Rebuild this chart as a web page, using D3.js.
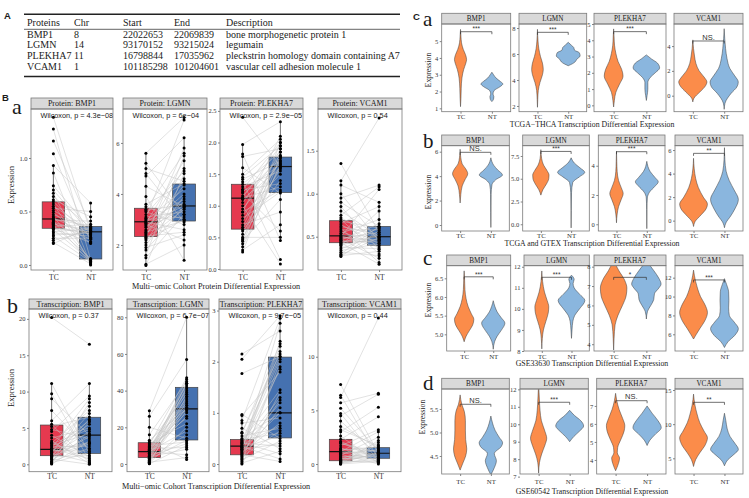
<!DOCTYPE html>
<html><head><meta charset="utf-8">
<script src="https://cdn.jsdelivr.net/npm/d3@7"></script>
<style>body{margin:0;background:#fff}svg{display:block}</style>
</head><body>
<svg id="fig" width="749" height="498"></svg>
<script>
// ================= DATA =================
const genes = ["BMP1","LGMN","PLEKHA7","VCAM1"];
const groups = ["TC","NT"];

// Panel A table
const tableHeader = ["Proteins","Chr","Start","End","Description"];
const tableProteins = ["BMP1","LGMN","PLEKHA7","VCAM1"];
const tableChr = ["8","14","11","1"];
const tableStart = ["22022653","93170152","16798844","101185298"];
const tableEnd = ["22069839","93215024","17035962","101204601"];
const tableDesc = ["bone morphogenetic protein 1","legumain","pleckstrin homology domain containing A7","vascular cell adhesion molecule 1"];

// Panel B a: protein (paired samples, TC[i] <-> NT[i])
const protBMP1TC = [1.38,1.27,1.16,1.04,0.93,0.86,0.74,0.70,0.67,0.64,0.61,0.59,0.57,0.55,0.53,0.51,0.49,0.47,0.45,0.44,0.43,0.42,0.41,0.40,0.39,0.38,0.37,0.36,0.35,0.34,0.34,0.33,0.31,0.30,0.28,0.27,0.25,0.23,0.21,0.20];
const protBMP1NT = [0.31,0.05,0.36,0.22,0.58,0.01,0.33,0.29,0.0,0.35,0.45,0.26,0.03,0.32,0.50,0.31,0.20,0.34,0.05,0.28,0.36,0.41,0.02,0.30,0.24,0.33,0.06,0.38,0.29,0.21,0.31,0.04,0.34,0.27,0.30,0.03,0.25,0.32,0.01,0.35];
const protLGMNTC = [5.6,5.2,5.0,4.8,4.7,4.3,3.9,3.6,3.5,3.4,3.35,3.3,3.2,3.1,3.05,3.0,2.95,2.9,2.9,2.85,2.8,2.75,2.7,2.6,2.55,2.5,2.45,2.4,2.35,2.3,2.25,2.2,2.1,2.0,1.9,1.8,1.6,1.5,1.25,1.2];
const protLGMNNT = [7.0,3.2,4.5,2.9,6.2,3.5,1.4,4.4,3.0,5.6,3.6,2.8,4.9,3.3,6.9,3.1,4.2,2.6,3.8,5.3,2.2,3.55,4.0,3.45,5.0,2.95,3.7,4.35,2.5,5.8,3.4,3.0,4.6,3.9,2.4,3.5,5.5,3.2,2.0,4.8];
const protPLEKHA7TC = [2.4,1.97,1.82,1.78,1.6,1.5,1.42,1.38,1.34,1.3,1.26,1.22,1.2,1.16,1.13,1.12,1.1,1.05,1.0,0.95,0.9,0.85,0.8,0.75,0.7,0.66,0.63,0.6,0.55,0.5,0.48,0.46,0.44,0.4,0.35,0.3,0.27,1.25,1.45,0.9];
const protPLEKHA7NT = [1.62,2.33,0.45,1.9,1.2,2.05,1.7,0.15,1.85,1.55,2.0,1.65,0.6,1.75,1.95,1.3,1.6,1.8,0.08,1.68,2.1,1.5,1.22,1.72,0.9,1.9,1.58,1.4,1.77,0.5,1.62,2.0,1.1,1.85,1.66,0.7,1.78,1.35,1.95,1.25];
const protVCAM1TC = [1.35,1.15,1.1,1.0,0.95,0.9,0.85,0.8,0.75,0.72,0.7,0.68,0.66,0.64,0.62,0.6,0.58,0.56,0.54,0.52,0.51,0.5,0.49,0.48,0.47,0.46,0.45,0.44,0.43,0.42,0.41,0.4,0.38,0.36,0.34,0.32,0.3,0.29,0.28,0.27];
const protVCAM1NT = [0.55,1.88,0.9,0.45,1.1,0.62,0.35,0.5,1.08,0.48,0.3,0.6,0.85,0.42,0.52,0.2,0.58,0.4,0.7,0.5,0.38,1.05,0.46,0.55,0.25,0.65,0.44,0.5,0.18,0.6,0.47,0.8,0.36,0.53,0.42,0.28,0.62,0.49,0.33,0.57];
// box stats [lower whisker, q1, median, q3, upper whisker] for TC, NT
const protBoxTC = [[0.20,0.343,0.43,0.59,0.93],[1.22,2.33,2.91,3.44,5.6],[0.27,0.63,1.12,1.34,1.97],[0.27,0.43,0.51,0.686,1.15]];
const protBoxNT = [[0.0,0.056,0.31,0.36,0.58],[1.45,2.94,3.53,4.39,6.2],[0.43,1.21,1.62,1.77,2.33],[0.17,0.40,0.50,0.62,0.90]];
const protP = ["4.3e\u221208","6e\u221204","2.9e\u221205","0.54"];

// Panel B b: transcription
const transBMP1TC = [20.2,11.1,9.7,9.0,7.4,6.0,5.5,5.2,4.8,4.5,4.0,3.6,3.2,2.9,2.6,2.4,2.2,2.1,2.05,2.0,1.9,1.8,1.6,1.5,1.3,1.2,1.1,1.0,0.9,0.8,0.7,0.5,0.4,0.3,0.2,0.1,0.05,3.0,2.8,1.7];
const transBMP1NT = [16.5,1.5,0.5,4.0,2.0,11.1,0.2,6.5,3.5,9.4,1.0,5.0,0.1,7.4,4.2,2.5,9.0,0.8,6.0,3.0,1.8,5.5,8.0,0.3,4.5,2.8,7.0,1.2,3.8,6.2,0.0,4.1,2.2,5.8,1.6,8.5,3.2,0.6,4.8,2.9];
const transLGMNTC = [29,26,20,16,13,12,11.6,11,10.5,10,9.5,9,8.5,8,7.5,7,6.8,6.7,6.5,6,5.5,5,4.6,4.2,4,3.8,3.5,3.2,3,2.5,2,1.5,1,0.8,0.5,0.3,0.1,7.2,5.8,9.2];
const transLGMNNT = [80,57,14,45,30,2.5,38,22,47,12,33,40,9,28,43,18,36,5,41,30,26,46,11,35,8,44,31,16,39,13,29,42,3.5,34,20,37,10,44,32,25];
const transPLEKHA7TC = [2.15,2.05,1.77,0.97,0.95,0.85,0.8,0.7,0.6,0.5,0.48,0.46,0.44,0.42,0.4,0.38,0.36,0.35,0.34,0.33,0.32,0.3,0.28,0.26,0.24,0.22,0.2,0.18,0.16,0.14,0.12,0.1,0.08,0.05,0.02,0.0,0.55,0.62,0.41,0.29];
const transPLEKHA7NT = [2.6,2.9,2.1,0.5,1.8,2.85,0.9,0.3,2.35,1.0,0.6,2.1,1.45,0.2,2.2,0.75,1.3,2.05,0.1,1.85,0.55,2.3,0.4,1.0,2.75,0.8,1.25,0.05,2.4,0.65,1.1,1.9,0.45,2.0,0.25,1.4,0.7,2.15,0.35,1.2];
const transVCAM1TC = [7.4,6.4,6.2,5.7,5.2,4.7,4.5,4.0,3.5,3.0,2.6,2.3,2.1,1.9,1.7,1.5,1.3,1.2,1.15,1.1,1.0,0.9,0.8,0.7,0.6,0.5,0.4,0.35,0.3,0.25,0.2,0.15,0.1,0.05,0.0,0.0,1.4,0.45,2.0,3.2];
const transVCAM1NT = [1.0,0.5,13.6,6.6,1.2,0.3,6.5,0.8,1.5,5.3,0.1,4.4,0.6,1.1,3.2,0.2,1.6,0.9,3.0,0.4,1.3,0.0,2.5,0.7,1.0,0.55,2.0,1.4,0.15,0.95,1.8,0.35,1.05,0.6,2.2,0.25,1.2,0.8,0.45,1.7];
const transBoxTC = [[0,1.18,2.06,5.4,11.1],[0,3.5,6.7,11.6,28.9],[0,0.18,0.35,0.48,0.96],[0,0.3,1.15,2.3,4.7]];
const transBoxNT = [[0,1.5,4.0,6.47,11.1],[2.5,13.1,30,41.8,80],[0.05,0.51,1.0,2.09,2.9],[0,0.53,1.0,1.52,3.0]];
const transP = ["0.37","6.7e\u221207","9.7e\u221205","0.44"];

// Panel C violins: density profiles [value, relative width] per gene
const thcaTC = [
  [[1.1,0],[1.6,0.03],[2.2,0.05],[2.8,0.1],[3.3,0.22],[3.7,0.38],[3.9,0.43],[4.2,0.35],[4.5,0.2],[4.9,0.07],[5.3,0.03],[5.7,0]],
  [[1.9,0],[2.5,0.02],[3.2,0.06],[3.8,0.18],[4.4,0.36],[4.8,0.42],[5.3,0.36],[5.8,0.22],[6.4,0.1],[7.0,0.04],[7.9,0]],
  [[-0.1,0],[0.3,0.05],[0.8,0.15],[1.3,0.4],[1.8,0.64],[2.2,0.55],[2.7,0.3],[3.2,0.15],[3.7,0.06],[4.2,0.03],[4.7,0]],
  [[-0.5,0],[-0.2,0.08],[0.3,0.5],[0.8,0.9],[1.1,1.0],[1.5,0.8],[2.0,0.45],[2.6,0.22],[3.2,0.12],[3.8,0.05],[4.5,0]]];
const thcaNT = [
  [[1.4,0],[1.55,0.12],[1.7,0.14],[1.85,0.08],[2.05,0.15],[2.3,0.6],[2.45,0.78],[2.6,0.6],[2.8,0.3],[3.0,0.12],[3.15,0]],
  [[5.1,0],[5.25,0.3],[5.4,0.5],[5.6,0.62],[5.85,0.86],[6.1,0.8],[6.3,0.45],[6.5,0.4],[6.7,0.2],[6.9,0]],
  [[0.3,0],[0.6,0.05],[1.0,0.1],[1.4,0.1],[1.7,0.25],[2.0,0.6],[2.3,0.9],[2.6,0.75],[2.85,0.35],[3.1,0]],
  [[-1.1,0],[-0.6,0.06],[0.2,0.5],[0.7,0.9],[1.1,1.0],[1.6,0.75],[2.2,0.4],[3.0,0.2],[3.8,0.1],[4.6,0.04],[5.4,0]]];
const gtexTC = [
  [[1.8,0],[2.5,0.05],[3.2,0.15],[3.7,0.35],[4.2,0.55],[4.6,0.4],[5.0,0.15],[5.5,0.05],[6.2,0]],
  [[3.2,0],[3.8,0.15],[4.4,0.4],[5.0,0.58],[5.4,0.6],[5.9,0.45],[6.5,0.2],[7.2,0.06],[8.2,0]],
  [[0.1,0],[0.7,0.05],[1.2,0.15],[1.7,0.35],[2.1,0.49],[2.5,0.35],[3.0,0.15],[3.6,0.05],[4.3,0.02],[5.0,0]],
  [[-0.5,0],[-0.1,0.1],[0.5,0.55],[1.0,0.9],[1.4,1.0],[2.0,0.7],[2.8,0.35],[3.6,0.15],[4.4,0.05],[5.3,0]]];
const gtexNT = [
  [[-0.2,0],[1.0,0.01],[2.5,0.02],[3.3,0.08],[3.7,0.35],[4.1,0.84],[4.5,0.5],[4.9,0.2],[5.5,0]],
  [[-0.4,0],[1.5,0.01],[3.5,0.03],[4.6,0.12],[5.2,0.6],[5.7,1.0],[6.2,0.65],[6.7,0.25],[7.3,0]],
  [[-0.3,0],[1.0,0.01],[1.8,0.04],[2.2,0.2],[2.6,0.6],[2.9,0.84],[3.2,0.6],[3.6,0.25],[4.3,0]],
  [[-0.6,0],[-0.2,0.1],[0.4,0.45],[1.0,0.75],[1.8,1.0],[2.6,0.7],[3.4,0.35],[4.2,0.12],[5.2,0.03],[6.2,0]]];
const gse33630TC = [
  [[4.8,0],[4.95,0.15],[5.1,0.4],[5.25,0.65],[5.4,0.74],[5.55,0.55],[5.75,0.3],[5.95,0.15],[6.2,0.06],[6.5,0.03],[6.7,0]],
  [[8.1,0],[8.6,0.04],[9.0,0.12],[9.4,0.3],[9.8,0.48],[10.1,0.52],[10.4,0.4],[10.8,0.2],[11.3,0.06],[11.8,0]],
  [[3.7,0],[4.3,0.03],[5.0,0.1],[5.5,0.3],[6.0,0.6],[6.5,0.85],[6.9,0.9],[7.3,0.75],[7.8,0.35],[8.3,0]],
  [[5.5,0],[6.0,0.2],[6.6,0.45],[7.4,0.8],[8.3,1.0],[9.2,0.8],[10.0,0.5],[10.8,0.3],[11.6,0.15],[12.8,0]]];
const gse33630NT = [
  [[4.6,0],[4.8,0.1],[4.95,0.3],[5.1,0.6],[5.3,0.89],[5.45,0.6],[5.6,0.3],[5.75,0.12],[5.9,0]],
  [[8.6,0],[9.0,0.04],[9.4,0.1],[9.7,0.25],[10.0,0.6],[10.4,1.0],[10.7,0.6],[11.0,0.2],[11.2,0.12],[11.4,0.2],[11.6,0]],
  [[5.3,0],[5.7,0.08],[6.0,0.3],[6.3,0.5],[6.6,0.55],[6.9,0.85],[7.1,1.0],[7.4,0.85],[7.8,0.5],[8.3,0]],
  [[4.6,0],[5.2,0.25],[5.9,0.75],[6.6,1.0],[7.3,0.7],[8.0,0.35],[8.8,0.3],[9.6,0.32],[10.5,0.3],[11.3,0.15],[11.9,0]]];
const gse60542TC = [
  [[4.2,0],[4.35,0.2],[4.5,0.4],[4.65,0.48],[4.85,0.4],[5.05,0.38],[5.25,0.38],[5.45,0.3],[5.6,0.12],[5.8,0]],
  [[7.2,0],[7.8,0.06],[8.3,0.22],[8.8,0.45],[9.2,0.58],[9.6,0.45],[10.2,0.2],[10.8,0.1],[11.5,0.05],[12.3,0]],
  [[3.4,0],[3.8,0.2],[4.1,0.28],[4.4,0.12],[4.7,0.15],[5.1,0.35],[5.6,0.6],[5.9,0.65],[6.3,0.5],[6.8,0.25],[7.3,0.08],[7.7,0]],
  [[3.8,0],[4.8,0.15],[5.8,0.45],[7.0,0.85],[8.0,1.0],[9.0,0.75],[10.2,0.45],[11.5,0.25],[12.8,0.1],[14.4,0]]];
const gse60542NT = [
  [[4.1,0],[4.25,0.25],[4.4,0.4],[4.55,0.25],[4.7,0.75],[4.78,0.85],[4.9,0.6],[5.05,0.3],[5.2,0.12],[5.35,0]],
  [[9.0,0],[9.3,0.3],[9.6,0.7],[9.9,1.0],[10.2,0.8],[10.5,0.35],[10.8,0]],
  [[4.8,0],[5.1,0.2],[5.4,0.55],[5.8,1.0],[6.2,0.75],[6.6,0.35],[7.0,0]],
  [[3.9,0],[4.8,0.25],[5.6,0.7],[6.3,1.0],[7.2,0.75],[8.2,0.4],[9.3,0.2],[10.5,0.1],[11.6,0]]];
// significance brackets [label, height]
const thcaSig = [["***",5.56],["***",7.67],["***",4.53],["NS.",4.41]];
const gtexSig = [["NS.",5.95],["***",8.0],["***",4.96],["**",5.72]];
const gse33630Sig = [["***",6.54],["***",11.5],["*",7.45],["***",11.76]];
const gse60542Sig = [["NS.",5.6],["***",11.26],["NS.",7.29],["**",13.2]];

// ================= LAYOUT =================
const SERIF = "'Liberation Serif','Times New Roman',serif";
const SANS = "'Liberation Sans',Arial,sans-serif";
const svg = d3.select("#fig");
svg.append("rect").attr("width",749).attr("height",498).attr("fill","#fff");
const defs = svg.append("defs");
let clipId = 0;

function text(x,y,s,o={},parent=svg){
  const t = parent.append("text").attr("x",x).attr("y",y).text(s)
    .attr("font-family",o.family||SERIF).attr("font-size",o.size||8)
    .attr("fill",o.fill||"#1a1a1a").attr("text-anchor",o.anchor||"start");
  if(o.weight) t.attr("font-weight",o.weight);
  if(o.rotate) t.attr("transform",`rotate(-90,${x},${y})`);
  return t;
}

// ---------- Panel A ----------
text(4,18.5,"A",{family:SANS,size:9.5,weight:"bold"});
text(413,19.5,"C",{family:SANS,size:9.5,weight:"bold"});
text(2,100.5,"B",{family:SANS,size:9.5,weight:"bold"});
const colX = [27,74,123,174,226];
const tL=24,tR=400;
svg.append("line").attr("x1",tL).attr("x2",tR).attr("y1",14.3).attr("y2",14.3).attr("stroke","#222").attr("stroke-width",1.4);
svg.append("line").attr("x1",tL).attr("x2",tR).attr("y1",29.3).attr("y2",29.3).attr("stroke","#222").attr("stroke-width",0.7);
svg.append("line").attr("x1",tL).attr("x2",tR).attr("y1",76.5).attr("y2",76.5).attr("stroke","#222").attr("stroke-width",1.4);
tableHeader.forEach((h,i)=>text(colX[i],25.5,h,{size:10}));
const rowY = d3.scaleLinear().domain([0,3]).range([37.6,70]);
tableProteins.forEach((p,r)=>{
  [p,tableChr[r],tableStart[r],tableEnd[r],tableDesc[r]].forEach((v,i)=>text(colX[i],rowY(r),v,{size:10}));
});

// ---------- shared helpers ----------
function frame(x0,x1,sTop,sBot,pBot,label,fs){
  svg.append("rect").attr("x",x0).attr("y",sTop).attr("width",x1-x0).attr("height",sBot-sTop)
    .attr("fill","#d9d9d9").attr("stroke","#7a7a7a").attr("stroke-width",0.8);
  svg.append("rect").attr("x",x0).attr("y",sBot).attr("width",x1-x0).attr("height",pBot-sBot)
    .attr("fill","none").attr("stroke","#7a7a7a").attr("stroke-width",0.8);
  text((x0+x1)/2,(sTop+sBot)/2+fs*0.35,label,{size:fs,anchor:"middle"});
}
function clipGroup(x0,x1,top,bot){
  const id = "clip"+(clipId++);
  defs.append("clipPath").attr("id",id).append("rect").attr("x",x0).attr("y",top).attr("width",x1-x0).attr("height",bot-top);
  return svg.append("g").attr("clip-path",`url(#${id})`);
}
function axes(x0,pBot,x,y,ticks,fmt,tfs,xfs,xpad){
  const gy = svg.append("g").attr("transform",`translate(${x0},0)`)
    .call(d3.axisLeft(y).tickValues(ticks).tickSize(2).tickPadding(1.5).tickFormat(d3.format(fmt)));
  gy.select(".domain").remove();
  gy.selectAll("line").attr("stroke","#333").attr("stroke-width",0.6);
  gy.selectAll("text").attr("font-family",SERIF).attr("font-size",tfs).attr("fill","#333");
  const gx = svg.append("g").attr("transform",`translate(0,${pBot})`)
    .call(d3.axisBottom(x).tickSize(2).tickPadding(xpad));
  gx.select(".domain").remove();
  gx.selectAll("line").attr("stroke","#333").attr("stroke-width",0.6);
  gx.selectAll("text").attr("font-family",SERIF).attr("font-size",xfs).attr("fill","#333");
}

// ---------- Panel B ----------
const boxFill = {TC:"#e5394f", NT:"#4571b0"};
function bRow(cfg, tcs, nts, boxTC, boxNT, pv, prefix){
  text(cfg.tagX,cfg.tagY,cfg.tag,{size:22});
  text(13.5,cfg.ylabY,"Expression",{size:8.5,anchor:"middle",rotate:true});
  text(216,cfg.titleY,cfg.title,{size:8.2,anchor:"middle"});
  genes.forEach((g,i)=>{
    const [x0,x1]=cfg.xs[i];
    const x = d3.scalePoint().domain(groups).range([x0,x1]).padding(0.6);
    const y = d3.scaleLinear().domain(cfg.domains[i]).range([cfg.pBot,cfg.sBot]);
    axes(x0,cfg.pBot,x,y,cfg.ticks[i],cfg.fmts[i],6.5,7.5,cfg.xpad);
    const G = clipGroup(x0,x1,cfg.sBot,cfg.pBot);
    const bw = x.step()*0.6;
    [[ "TC", boxTC[i]],["NT", boxNT[i]]].forEach(([grp,s])=>{
      const cx = x(grp);
      G.append("line").attr("x1",cx).attr("x2",cx).attr("y1",y(s[0])).attr("y2",y(s[1])).attr("stroke","#333").attr("stroke-width",0.7);
      G.append("line").attr("x1",cx).attr("x2",cx).attr("y1",y(s[3])).attr("y2",y(s[4])).attr("stroke","#333").attr("stroke-width",0.7);
      G.append("rect").attr("x",cx-bw/2).attr("y",y(s[3])).attr("width",bw).attr("height",y(s[1])-y(s[3]))
        .attr("fill",boxFill[grp]).attr("stroke","#444").attr("stroke-width",0.7);
      G.append("line").attr("x1",cx-bw/2).attr("x2",cx+bw/2).attr("y1",y(s[2])).attr("y2",y(s[2])).attr("stroke","#111").attr("stroke-width",1.2);
    });
    const tc=tcs[i], nt=nts[i];
    tc.forEach((v,k)=>{
      G.append("line").attr("x1",x("TC")).attr("x2",x("NT")).attr("y1",y(v)).attr("y2",y(nt[k]))
        .attr("stroke","#c4c4c4").attr("stroke-width",0.5);
    });
    [["TC",tc],["NT",nt]].forEach(([grp,arr])=>{
      G.append("g").selectAll("circle").data(arr).join("circle")
        .attr("cx",x(grp)).attr("cy",d=>y(d)).attr("r",1.5).attr("fill","#000");
    });
    text(x0+9.5,cfg.sBot+8.5,"Wilcoxon, p = "+pv[i],{family:SANS,size:7.3},G);
    frame(x0,x1,cfg.sTop,cfg.sBot,cfg.pBot,prefix+g,8);
  });
}
bRow({tag:"a",tagX:12,tagY:114,ylabY:185,xpad:2.5,title:"Multi\u2212omic Cohort Protein Differential Expression",titleY:289,
  sTop:98,sBot:109,pBot:270,xs:[[31,113],[123,207],[220,303],[318,402]],
  domains:[[-0.047,1.458],[1.02,7.33],[-0.016,2.53],[0.113,1.985]],
  ticks:[[0,0.5,1],[2,4,6],[0,0.5,1,1.5,2,2.5],[0.5,1,1.5]],fmts:[".1f","d",".1f",".1f"]},
  [protBMP1TC,protLGMNTC,protPLEKHA7TC,protVCAM1TC],[protBMP1NT,protLGMNNT,protPLEKHA7NT,protVCAM1NT],
  protBoxTC,protBoxNT,protP,"Protein: ");
bRow({tag:"b",tagX:7,tagY:313,ylabY:388,xpad:0.3,title:"Multi\u2212omic Cohort Transcription Differential Expression",titleY:488.5,
  sTop:299,sBot:309,pBot:471.7,xs:[[29,112],[127,209],[219,303],[318,401]],
  domains:[[-1.02,21.36],[-4.2,84.5],[-0.15,3.03],[-0.72,14.45]],
  ticks:[[0,5,10,15,20],[0,20,40,60,80],[0,1,2,3],[0,5,10]],fmts:["d","d","d","d"]},
  [transBMP1TC,transLGMNTC,transPLEKHA7TC,transVCAM1TC],[transBMP1NT,transLGMNNT,transPLEKHA7NT,transVCAM1NT],
  transBoxTC,transBoxNT,transP,"Transcription: ");

// ---------- Panel C ----------
const vFill = {TC:"#fb8c4a", NT:"#8ab6de"};
function cRow(cfg, tcP, ntP, sig){
  text(423,cfg.tagY,cfg.tag,{size:21});
  text(cfg.ylabX,cfg.ylabY,"Expression",{size:7.8,anchor:"middle",rotate:true});
  text(592,cfg.titleY,cfg.title,{size:7.8,anchor:"middle"});
  genes.forEach((g,i)=>{
    const [x0,x1]=cfg.xs[i];
    const x = d3.scalePoint().domain(groups).range([x0,x1]).padding(0.6);
    const y = d3.scaleLinear().domain(cfg.domains[i]).range([cfg.pBot,cfg.sBot]);
    axes(x0,cfg.pBot,x,y,cfg.ticks[i],cfg.fmts[i],6.5,6.8,cfg.xpad);
    const G = clipGroup(x0,x1,cfg.sBot,cfg.pBot);
    const half = x.step()*0.45;
    [["TC",tcP[i]],["NT",ntP[i]]].forEach(([grp,prof])=>{
      const cx = x(grp);
      const area = d3.area().curve(d3.curveMonotoneY)
        .y(d=>y(d[0])).x0(d=>cx-d[1]*half).x1(d=>cx+d[1]*half);
      G.append("path").attr("d",area(prof)).attr("fill",vFill[grp]).attr("stroke","#3a3a3a").attr("stroke-width",0.5);
    });
    const [lab,h]=sig[i];
    const by=y(h), xa=x("TC"), xb=x("NT");
    G.append("path").attr("d",`M${xa},${by+2.5}V${by}H${xb}V${by+2.5}`).attr("fill","none").attr("stroke","#333").attr("stroke-width",0.7);
    text((xa+xb)/2,by-(lab==="NS."?1.3:0.3),lab,{family:SANS,size:lab==="NS."?7.5:6.5,anchor:"middle",fill:"#333"},G);
    frame(x0,x1,cfg.sTop,cfg.sBot,cfg.pBot,g,7.2);
  });
}
cRow({tag:"a",tagY:26,ylabX:430.5,ylabY:70,xpad:0.5,title:"TCGA\u2212THCA Transcription Differential Expression",titleY:127,
  sTop:13.3,sBot:24,pBot:111.7,xs:[[441.7,510.7],[519,586.7],[594,666],[674,743]],
  domains:[[0.8,6.02],[1.56,8.31],[-0.39,5.0],[-1.29,5.78]],
  ticks:[[1,2,3,4,5],[2,4,6,8],[0,1,2,3,4,5],[0,2,4]],fmts:["d","d","d","d"]},thcaTC,thcaNT,thcaSig);
cRow({tag:"b",tagY:148.3,ylabX:430.5,ylabY:192,xpad:0,title:"TCGA and GTEX Transcription Differential Expression",titleY:245.5,
  sTop:135,sBot:145.7,pBot:231,xs:[[441.7,509.3],[522.7,589.3],[598.3,665],[675,743]],
  domains:[[-0.49,6.49],[-0.74,8.63],[-0.46,5.37],[-0.88,6.37]],
  ticks:[[0,2,4,6],[0,2.5,5,7.5],[0,2,4],[0,2,4,6]],fmts:["d",".1f","d","d"]},gtexTC,gtexNT,gtexSig);
cRow({tag:"c",tagY:264.5,ylabX:431,ylabY:300,xpad:1,title:"GSE33630 Transcription Differential Expression",titleY:365.5,
  sTop:255,sBot:265.7,pBot:351,xs:[[446.7,510.7],[524,589.3],[594,666],[675,743]],
  domains:[[4.553,6.838],[8.0,12.05],[3.65,8.05],[4.23,13.27]],
  ticks:[[5,5.5,6,6.5],[8,9,10,11,12],[4,5,6,7,8],[6,8,10,12]],fmts:[".1f","d","d","d"]},gse33630TC,gse33630NT,gse33630Sig);
cRow({tag:"d",tagY:390,ylabX:424.5,ylabY:417,xpad:3.5,title:"GSE60542 Transcription Differential Expression",titleY:494,
  sTop:378.3,sBot:389,pBot:474,xs:[[441.7,509.3],[520,588.3],[596.7,666],[675,743]],
  domains:[[4.117,5.925],[7.15,12.02],[3.22,7.94],[2.70,15.15]],
  ticks:[[4.5,5,5.5],[7,8,9,10,11,12],[4,5,6,7],[5,10,15]],fmts:[".1f","d","d","d"]},gse60542TC,gse60542NT,gse60542Sig);
</script>
</body></html>
